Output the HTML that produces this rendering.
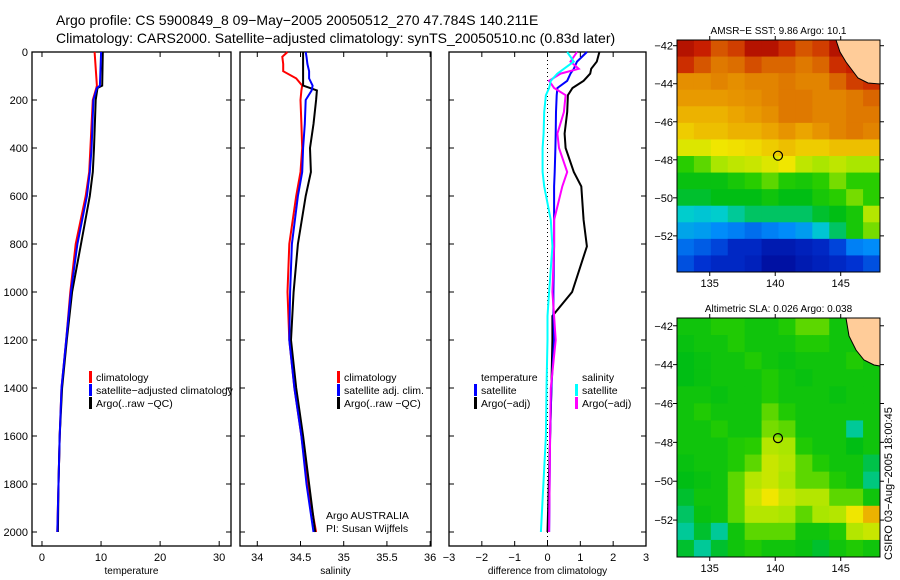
<!DOCTYPE html>
<html><head><meta charset="utf-8"><style>
body{margin:0;background:#fff;}
svg{display:block;font-family:"Liberation Sans",sans-serif;}
text{fill:#000;}
</style></head><body>
<svg id="fig" width="900" height="580" viewBox="0 0 900 580">
<text x="56" y="25" font-size="14">Argo profile: CS 5900849_8 09−May−2005 20050512_270 47.784S 140.211E</text>
<text x="56" y="43" font-size="14">Climatology: CARS2000. Satellite−adjusted climatology: synTS_20050510.nc (0.83d later)</text>
<g id="g"></g>
<text font-size="11" transform="translate(892,560) rotate(-90)">CSIRO 03−Aug−2005 18:00:45</text>
</svg>
<script>
// ---- profile data ----
const depthT = [0,140,150,200,400,500,600,800,1000,1200,1400,1600,1800,2000];
const tempClim = [8.9,9.3,9.2,8.6,8.2,8.0,7.4,5.7,4.8,4.1,3.3,3.0,2.8,2.6];
const tempSat  = [10.0,9.8,9.3,8.7,8.4,8.1,7.6,6.0,4.9,4.1,3.3,3.0,2.8,2.6];
const tempArgo = [10.3,10.2,9.4,9.1,8.8,8.6,8.1,6.6,5.1,4.2,3.4,3.0,2.8,2.7];
const depthS = [0,20,50,80,110,140,160,200,300,400,500,600,800,1000,1200,1400,1600,1800,2000];
const salClim = [34.35,34.29,34.3,34.3,34.45,34.52,34.51,34.5,34.51,34.52,34.5,34.45,34.37,34.35,34.37,34.43,34.51,34.58,34.68];
const salSat  = [34.56,34.57,34.58,34.6,34.6,34.64,34.63,34.56,34.55,34.53,34.52,34.47,34.4,34.38,34.37,34.43,34.51,34.57,34.65];
const salArgo = [34.53,34.53,34.53,34.53,34.53,34.53,34.69,34.68,34.65,34.61,34.62,34.56,34.47,34.42,34.39,34.45,34.53,34.6,34.67];
const depthD = [0,40,70,90,120,150,180,250,340,400,500,560,700,810,1000,1100,1200,1400,1600,2000];
const difTA = [1.58,1.5,1.33,1.3,1.1,0.76,0.62,0.6,0.52,0.55,0.8,1.03,1.1,1.2,0.75,0.15,0.15,0.12,0.08,0.0];
const difTS = [1.2,0.9,0.8,0.7,0.6,0.3,0.28,0.26,0.25,0.24,0.22,0.2,0.2,0.2,0.18,0.18,0.2,0.12,0.08,0.05];
const difSA = [0.9,0.7,0.95,0.4,0.05,0.2,0.55,0.5,0.3,0.35,0.6,0.45,0.2,0.2,0.15,0.2,0.25,0.1,0.08,0.05];
const difSS = [0.6,0.8,0.5,0.3,0.1,0.05,-0.05,-0.1,-0.12,-0.15,-0.15,-0.1,0.1,0.15,0.05,0.0,0.0,-0.03,-0.05,-0.2];
const depthTicks = [0,200,400,600,800,1000,1200,1400,1600,1800,2000];
const tempTicks = [0,10,20,30];
const salTicks = [34,34.5,35,35.5,36];
const difTicks = [-3,-2,-1,0,1,2,3];
// ---- map data (colormap index 0..1), rows north->south, -1 = land ----
const sstGrid = [
[.95,.92,.85,.88,.95,.95,.9,.85,.88,.95,.95,-1],
[.9,.85,.8,.82,.86,.83,.83,.8,.83,.9,.92,.95],
[.76,.76,.78,.76,.78,.78,.8,.78,.78,.83,.88,.9],
[.74,.74,.74,.75,.76,.78,.8,.8,.78,.78,.8,.83],
[.7,.7,.7,.72,.74,.76,.8,.8,.78,.78,.8,.8],
[.66,.68,.68,.7,.7,.72,.75,.72,.75,.78,.8,.78],
[.6,.6,.62,.63,.64,.66,.68,.66,.66,.68,.68,.68],
[.5,.52,.55,.57,.58,.6,.62,.57,.55,.57,.55,.55],
[.46,.46,.46,.48,.5,.52,.49,.48,.5,.53,.5,.5],
[.44,.44,.45,.45,.45,.47,.45,.45,.48,.5,.53,.5],
[.38,.37,.38,.4,.42,.42,.42,.42,.44,.45,.48,.56],
[.33,.32,.3,.28,.25,.28,.3,.32,.37,.42,.48,.53],
[.25,.22,.18,.12,.12,.08,.08,.1,.12,.18,.28,.3],
[.2,.15,.12,.12,.1,.05,.05,.08,.1,.12,.15,.2]];
const slaGrid = [
[.47,.47,.49,.49,.47,.47,.49,.52,.52,.47,.47,-1],
[.46,.47,.47,.49,.47,.47,.47,.49,.49,.47,.47,.49],
[.45,.46,.47,.47,.49,.47,.46,.47,.47,.47,.49,.47],
[.45,.46,.47,.47,.47,.49,.47,.46,.47,.47,.47,.47],
[.47,.47,.46,.47,.47,.49,.47,.47,.47,.46,.47,.47],
[.47,.49,.47,.47,.47,.52,.49,.47,.47,.47,.47,.47],
[.47,.47,.49,.47,.47,.53,.52,.47,.47,.47,.4,.47],
[.47,.47,.47,.49,.5,.56,.55,.49,.47,.47,.45,.47],
[.46,.47,.47,.49,.52,.58,.56,.52,.49,.47,.47,.43],
[.45,.46,.47,.52,.56,.58,.55,.52,.52,.49,.47,.41],
[.44,.47,.47,.52,.58,.62,.58,.56,.56,.52,.52,.47],
[.42,.46,.47,.52,.56,.56,.55,.52,.55,.56,.62,.7],
[.4,.44,.4,.47,.52,.52,.52,.47,.47,.49,.56,.58],
[.44,.4,.44,.47,.49,.47,.47,.46,.44,.47,.49,.47]];
const mapLatTicks = [-42,-44,-46,-48,-50,-52];
const mapLonTicks = [135,140,145];
const argoPos = [140.211,-47.784];

const NS='http://www.w3.org/2000/svg';
const G=document.getElementById('g');
function mk(tag,attrs,parent){const e=document.createElementNS(NS,tag);for(const k in attrs)e.setAttribute(k,attrs[k]);(parent||G).appendChild(e);return e;}
function txt(x,y,s,size,anchor,parent){const t=mk('text',{x:x,y:y,'font-size':size,'text-anchor':anchor||'start'},parent);t.textContent=s;return t;}

const yTop=52,yBot=532;
function yD(d){return yTop+(yBot-yTop)*d/2000;}

function panel(name,x0,x1,vmin,vmax,xt,xlabel,showY){
  const g=mk('g',{});
  
  
  const X=v=>x0+ (v-vmin)/(vmax-vmin)*(x1-x0);
  mk('rect',{x:x0,y:yTop,width:x1-x0,height:546-yTop,fill:'none',stroke:'#000','stroke-width':1.3},g);
  depthTicks.forEach(d=>{const y=yD(d);
    mk('line',{x1:x0,x2:x0+5,y1:y,y2:y,stroke:'#000'},g);
    mk('line',{x1:x1,x2:x1-5,y1:y,y2:y,stroke:'#000'},g);
    if(showY){const t=txt(x0-4,y+4,String(d),11,'end',g);}
  });
  xt.forEach(v=>{const x=X(v);
    mk('line',{x1:x,x2:x,y1:546,y2:541,stroke:'#000'},g);
    mk('line',{x1:x,x2:x,y1:yTop,y2:yTop+5,stroke:'#000'},g);
    const t=txt(x,561,String(v).replace('-','−'),11,'middle',g);
    
    
  });
  const xl=txt((x0+x1)/2,574,xlabel,10,'middle',g);
  
  
  return {g,X};
}
function line(p,depths,vals,color,name){
  const pts=depths.map((d,i)=>p.X(vals[i]).toFixed(1)+','+yD(d).toFixed(1)).join(' ');
  const l=mk('polyline',{points:pts,fill:'none',stroke:color,'stroke-width':2},p.g);
  
  
}
function legend(p,x,y,items){
  items.forEach((it,i)=>{
    if(it[1]){const r=mk('rect',{x:x,y:y+i*13-10,width:3,height:12,fill:it[1]},p.g);
      
      }
    const t=txt(x+7,y+i*13,it[0],10.5,'start',p.g);
    
    
  });
}
// Temperature
const p1=panel('temperature-panel',32,231,-1.69,32.0,tempTicks,'temperature',true);
line(p1,depthT,tempClim,'#f00','temp-climatology-line');
line(p1,depthT,tempArgo,'#000','temp-argo-line');
line(p1,depthT,tempSat,'#00f','temp-satellite-line');
legend(p1,89,381,[['climatology','#f00'],['satellite−adjusted climatology','#00f'],['Argo(..raw −QC)','#000']]);
// Salinity
const p2=panel('salinity-panel',240,431,33.8,36.01,salTicks,'salinity',false);
line(p2,depthS,salClim,'#f00','sal-climatology-line');
line(p2,depthS,salArgo,'#000','sal-argo-line');
line(p2,depthS,salSat,'#00f','sal-satellite-line');
legend(p2,337,381,[['climatology','#f00'],['satellite adj. clim.','#00f'],['Argo(..raw −QC)','#000']]);
legend(p2,319,519,[['Argo AUSTRALIA',null],['PI: Susan Wijffels',null]]);
// Difference
const p3=panel('difference-panel',449,646,-3,3,difTicks,'difference from climatology',false);
mk('line',{x1:p3.X(0),x2:p3.X(0),y1:yTop,y2:546,stroke:'#000','stroke-dasharray':'1,3'},p3.g);
line(p3,depthD,difTA,'#000','diff-temp-argo-line');
line(p3,depthD,difTS,'#00f','diff-temp-satellite-line');
line(p3,depthD,difSA,'#f0f','diff-sal-argo-line');
line(p3,depthD,difSS,'#0ff','diff-sal-satellite-line');
legend(p3,474,381,[['temperature',null],['satellite','#00f'],['Argo(−adj)','#000']]);
legend(p3,575,381,[['salinity',null],['satellite','#0ff'],['Argo(−adj)','#f0f']]);

const cmapStops=[[0,[0,0,140]],[.15,[0,50,210]],[.3,[0,140,250]],[.38,[0,205,205]],[.45,[0,190,20]],[.5,[40,205,0]],[.55,[170,230,0]],[.62,[240,230,0]],[.72,[235,165,0]],[.82,[220,110,0]],[.92,[200,30,0]],[1,[150,0,0]]];
function cmap(v){
  for(let i=1;i<cmapStops.length;i++){
    if(v<=cmapStops[i][0]){const a=cmapStops[i-1],b=cmapStops[i];const t=(v-a[0])/(b[0]-a[0]);
      return 'rgb('+a[1].map((c,k)=>Math.round(c+(b[1][k]-c)*t)).join(',')+')';}
  }
  return 'rgb(150,0,0)';
}
function map(name,title,grid,y0,y1,latTop,latBot,land){
  const x0=677,x1=880,lon0=132.5,lon1=148;
  const g=mk('g',{});
  
  
  const X=lo=>x0+(lo-lon0)/(lon1-lon0)*(x1-x0);
  const Y=la=>y0+(latTop-la)/(latTop-latBot)*(y1-y0);
  const rows=grid.length,cols=grid[0].length,cw=(x1-x0)/cols,ch=(y1-y0)/rows;
  grid.forEach((row,i)=>row.forEach((v,j)=>{
    const r=mk('rect',{x:x0+j*cw,y:y0+i*ch,width:cw+0.5,height:ch+0.5,fill:v<0?'#fc9':cmap(v)},g);
    
    
  }));
  const lp=mk('polygon',{points:land,fill:'#fc9',stroke:'#000','stroke-width':1},g);
  
  
  mk('rect',{x:x0,y:y0,width:x1-x0,height:y1-y0,fill:'none',stroke:'#000'},g);
  mapLatTicks.forEach(la=>{const y=Y(la);
    mk('line',{x1:x0,x2:x0-4,y1:y,y2:y,stroke:'#000'},g);
    mk('line',{x1:x1,x2:x1+4,y1:y,y2:y,stroke:'#000'},g);
    const t=txt(x0-4,y+4,String(la).replace('-','−'),11,'end',g);
    
    });
  mapLonTicks.forEach(lo=>{const x=X(lo);
    mk('line',{x1:x,x2:x,y1:y0,y2:y0-4,stroke:'#000'},g);
    mk('line',{x1:x,x2:x,y1:y1,y2:y1+4,stroke:'#000'},g);
    const t=txt(x,y1+15,String(lo),11,'middle',g);
    
    });
  const c=mk('circle',{cx:X(argoPos[0]),cy:Y(argoPos[1]),r:4.5,fill:'none',stroke:'#000','stroke-width':1.2},g);
  
  
  const t=txt((x0+x1)/2,y0-6,title,10,'middle',g);
  
  
}
map('sst-map','AMSR−E SST: 9.86 Argo: 10.1',sstGrid,40,272,-41.7,-53.9,'836,40 840,52 846,62 852,70 858,78 868,83 880,84 880,40');
map('sla-map','Altimetric SLA: 0.026 Argo: 0.038',slaGrid,318,557,-41.6,-53.9,'846,318 849,336 856,350 864,360 874,365 880,366 880,318');
</script>
</body></html>
